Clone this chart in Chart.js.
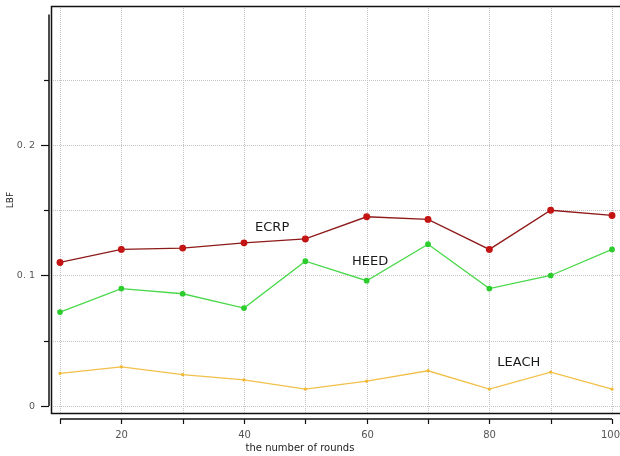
<!DOCTYPE html>
<html>
<head>
<meta charset="utf-8">
<script src="https://cdn.jsdelivr.net/npm/chart.js@4/dist/chart.umd.min.js"></script>
<style>
html,body{margin:0;padding:0;background:#fff;}
canvas{display:block;}
</style>
</head>
<body>
<canvas id="c" width="620" height="456"></canvas>
<script>
// ---- data ----
const rounds = [10, 20, 30, 40, 50, 60, 70, 80, 90, 100];
const ecrp  = [0.110, 0.120, 0.121, 0.125, 0.128, 0.145, 0.143, 0.120, 0.150, 0.146];
const heed  = [0.072, 0.090, 0.086, 0.075, 0.111, 0.096, 0.124, 0.090, 0.100, 0.120];
const leach = [0.025, 0.030, 0.024, 0.020, 0.013, 0.019, 0.027, 0.013, 0.026, 0.013];
const seriesNames = ['ECRP', 'HEED', 'LEACH'];
const xTickValues = [10, 20, 30, 40, 50, 60, 70, 80, 90, 100];
const xTickText   = ['', '20', '', '40', '', '60', '', '80', '', '100'];
const yTickValues = [0, 0.05, 0.1, 0.15, 0.2, 0.25];
const yTickText   = ['0', '', '0. 1', '', '0. 2', ''];
const xTitle = 'the number of rounds';
const yTitle = 'LBF';

const FONT = 'DejaVu Sans';
const toXY = arr => arr.map((v, i) => ({x: rounds[i], y: v}));

// label anchors (data coordinates)
const seriesLabelPos = [
  {x: 41.8, y: 0.137},
  {x: 57.6, y: 0.111},
  {x: 81.3, y: 0.033}
];

const grid = {
  id: 'gridDots',
  beforeDatasetsDraw(chart) {
    const ctx = chart.ctx;
    const xs = chart.scales.x, ys = chart.scales.y;
    const a = chart.chartArea;
    ctx.save();
    ctx.strokeStyle = '#c4c4c4';
    ctx.lineWidth = 1;
    ctx.setLineDash([1, 1]);
    for (const v of xTickValues) {
      const px = Math.round(xs.getPixelForValue(v)) + 0.5;
      ctx.beginPath();
      ctx.moveTo(px, a.top + 2);
      ctx.lineTo(px, a.bottom - 1);
      ctx.stroke();
    }
    for (const v of yTickValues) {
      const py = Math.round(ys.getPixelForValue(v)) + 0.5;
      ctx.beginPath();
      ctx.moveTo(a.left + 2, py);
      ctx.lineTo(a.right, py);
      ctx.stroke();
    }
    ctx.restore();
  }
};

const decor = {
  id: 'decor',
  afterDraw(chart) {
    const ctx = chart.ctx;
    const xs = chart.scales.x, ys = chart.scales.y;
    const a = chart.chartArea;
    ctx.save();
    ctx.strokeStyle = '#111';
    ctx.lineWidth = 1.5;
    // frame
    ctx.beginPath();
    ctx.moveTo(a.right + 2, a.top + 0.5);
    ctx.lineTo(a.left + 0.5, a.top + 0.5);
    ctx.lineTo(a.left + 0.5, a.bottom - 0.5);
    ctx.lineTo(a.right + 2, a.bottom - 0.5);
    ctx.stroke();
    // y axis line (offset)
    const yax = a.left - 2;
    ctx.beginPath();
    ctx.moveTo(yax, ys.getPixelForValue(0.3));
    ctx.lineTo(yax, ys.getPixelForValue(0));
    ctx.stroke();
    ctx.lineWidth = 1.2;
    ctx.fillStyle = '#555';
    ctx.font = '9.5px "' + FONT + '"';
    ctx.textAlign = 'right';
    ctx.textBaseline = 'middle';
    for (let i = 0; i < yTickValues.length; i++) {
      const py = Math.round(ys.getPixelForValue(yTickValues[i])) + 0.5;
      const len = yTickText[i] ? 8 : 5;
      ctx.beginPath();
      ctx.moveTo(yax - len, py);
      ctx.lineTo(yax, py);
      ctx.stroke();
      if (yTickText[i]) ctx.fillText(yTickText[i], 35, py);
    }
    // x axis line (offset)
    ctx.lineWidth = 1.5;
    const xay = a.bottom + 5;
    ctx.beginPath();
    ctx.moveTo(xs.getPixelForValue(10), xay);
    ctx.lineTo(xs.getPixelForValue(100), xay);
    ctx.stroke();
    ctx.lineWidth = 1.2;
    ctx.font = '10px "' + FONT + '"';
    ctx.textAlign = 'center';
    for (let i = 0; i < xTickValues.length; i++) {
      const px = Math.round(xs.getPixelForValue(xTickValues[i])) + 0.5;
      ctx.beginPath();
      ctx.moveTo(px, xay);
      ctx.lineTo(px, xay + 5);
      ctx.stroke();
      if (xTickText[i]) {
        const w = ctx.measureText(xTickText[i]).width;
        const cx = Math.min(px, 620 - w / 2);
        ctx.fillText(xTickText[i], cx, 435);
      }
    }
    // titles
    ctx.fillStyle = '#222';
    ctx.font = '10px "' + FONT + '"';
    ctx.textAlign = 'center';
    ctx.fillText(xTitle, 300, 448);
    ctx.save();
    ctx.translate(11, 200);
    ctx.rotate(-Math.PI / 2);
    ctx.font = '9px "' + FONT + '"';
    ctx.fillText(yTitle, 0, 0);
    ctx.restore();
    // series labels
    ctx.font = '13px "' + FONT + '"';
    ctx.textAlign = 'left';
    ctx.fillStyle = '#1a1a1a';
    for (let i = 0; i < seriesNames.length; i++) {
      const p = seriesLabelPos[i];
      ctx.fillText(seriesNames[i], xs.getPixelForValue(p.x), ys.getPixelForValue(p.y));
    }
    ctx.restore();
  }
};

new Chart(document.getElementById('c'), {
  type: 'line',
  data: {
    datasets: [
      {label: seriesNames[0], data: toXY(ecrp), borderColor: '#8e1a1a', borderWidth: 1.3,
       pointRadius: 2.8, pointBackgroundColor: '#c41414', pointBorderColor: '#c41414', tension: 0},
      {label: seriesNames[1], data: toXY(heed), borderColor: '#4ad84a', borderWidth: 1.3,
       pointRadius: 2.2, pointBackgroundColor: '#2ccc2c', pointBorderColor: '#2ccc2c', tension: 0},
      {label: seriesNames[2], data: toXY(leach), borderColor: '#f2c04a', borderWidth: 1.3,
       pointRadius: 1, pointBackgroundColor: '#f0b830', pointBorderColor: '#f0b830', tension: 0}
    ]
  },
  options: {
    responsive: false,
    animation: false,
    layout: {padding: {top: 6, right: 0, left: 51, bottom: 42}, autoPadding: false},
    plugins: {legend: {display: false}, tooltip: {enabled: false}},
    scales: {
      x: {type: 'linear', min: 8.53, max: 101.3, display: false},
      y: {type: 'linear', min: -0.00613, max: 0.3065, display: false}
    }
  },
  plugins: [grid, decor]
});
</script>
</body>
</html>
